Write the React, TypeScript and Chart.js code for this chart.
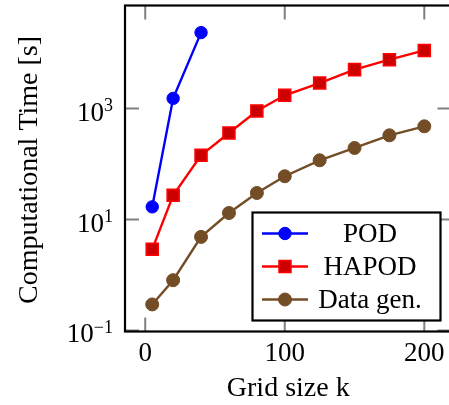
import { useEffect, useRef } from "react";
import { Chart, registerables } from "chart.js";

Chart.register(...registerables);

// ---- data ----
const gridSizes = [5, 20, 40, 60, 80, 100, 125, 150, 175, 200];
const podGridSizes = [5, 20, 40];
const podTime = [16.9, 1530, 23500];
const hapodTime = [2.9, 27.4, 144, 363, 905, 1740, 2890, 5050, 7640, 11200];
const dataGenTime = [0.294, 0.805, 4.86, 13.1, 30.1, 60.3, 117, 195, 330, 480];
const seriesLabels = ["POD", "HAPOD", "Data gen."];
const xTickValues = [0, 100, 200];
const yTickExponents = [-1, 1, 3];
const xAxisLabel = "Grid size k";
const yAxisLabel = "Computational Time [s]";
// axis limits (the right frame edge lies just outside the picture)
const xMin = -14.5;
const xFrameMax = 219.5;
const xVisibleMax = 217.7;

const FONT = '"Liberation Serif", "DejaVu Serif", serif';
const TICK_LEN = 14;

const toPoints = (xs: number[], ys: number[]) => xs.map((x, i) => ({ x, y: ys[i] }));

const supText = (e: number) => (e < 0 ? "\u2212" + Math.abs(e) : String(e));

const frameRight = (chart: any) => chart.scales.x.getPixelForValue(xFrameMax);

const framePlugin = {
  id: "frame",
  beforeDatasetsDraw(chart: any) {
    const { ctx, chartArea: a, scales } = chart;
    const xs = scales.x;
    const ys = scales.y;
    const right = frameRight(chart);
    ctx.save();
    ctx.strokeStyle = "#808080";
    ctx.lineWidth = 2;
    ctx.beginPath();
    for (const v of xTickValues) {
      const px = xs.getPixelForValue(v);
      ctx.moveTo(px, a.bottom);
      ctx.lineTo(px, a.bottom - TICK_LEN);
      ctx.moveTo(px, a.top);
      ctx.lineTo(px, a.top + TICK_LEN);
    }
    for (const e of yTickExponents) {
      const py = ys.getPixelForValue(Math.pow(10, e));
      ctx.moveTo(a.left, py);
      ctx.lineTo(a.left + TICK_LEN, py);
      ctx.moveTo(right, py);
      ctx.lineTo(right - TICK_LEN, py);
    }
    ctx.stroke();
    ctx.restore();
  },
  afterDatasetsDraw(chart: any) {
    const { ctx, chartArea: a } = chart;
    const right = frameRight(chart);
    ctx.save();
    ctx.strokeStyle = "#000";
    ctx.lineWidth = 2.2;
    ctx.strokeRect(a.left, a.top, right - a.left, a.bottom - a.top);
    ctx.restore();
  },
  afterDraw(chart: any) {
    const { ctx, chartArea: a, scales } = chart;
    const xs = scales.x;
    const ys = scales.y;
    const right = frameRight(chart);
    ctx.save();
    ctx.fillStyle = "#000";

    // x tick labels
    ctx.font = `27px ${FONT}`;
    ctx.textAlign = "center";
    ctx.textBaseline = "alphabetic";
    for (const v of xTickValues) {
      ctx.fillText(String(v), xs.getPixelForValue(v), a.bottom + 29.5);
    }

    // y tick labels with superscript exponents
    const rightEdge = a.left - 12;
    for (const e of yTickExponents) {
      const py = ys.getPixelForValue(Math.pow(10, e));
      const s = supText(e);
      ctx.font = `18px ${FONT}`;
      const ws = ctx.measureText(s).width;
      ctx.font = `27px ${FONT}`;
      const wb = ctx.measureText("10").width;
      ctx.textAlign = "left";
      ctx.fillText("10", rightEdge - ws - wb, py + 12);
      ctx.font = `18px ${FONT}`;
      ctx.fillText(s, rightEdge - ws, py + 2.5);
    }

    // axis titles
    ctx.font = `28px ${FONT}`;
    ctx.textAlign = "center";
    ctx.fillText(xAxisLabel, (a.left + right) / 2, a.bottom + 64);
    ctx.save();
    ctx.translate(36.5, (a.top + a.bottom) / 2 + 1.5);
    ctx.rotate(-Math.PI / 2);
    ctx.fillText(yAxisLabel, 0, 0);
    ctx.restore();

    // legend
    const box = { left: 252.5, top: 212.5, right: 440.5, bottom: 320.5 };
    ctx.fillStyle = "#fff";
    ctx.fillRect(box.left, box.top, box.right - box.left, box.bottom - box.top);
    ctx.strokeStyle = "#000";
    ctx.lineWidth = 2.2;
    ctx.strokeRect(box.left, box.top, box.right - box.left, box.bottom - box.top);
    chart.data.datasets.forEach((ds: any, i: number) => {
      const ry = 233.5 + i * 33;
      ctx.strokeStyle = ds.borderColor;
      ctx.lineWidth = ds.borderWidth;
      ctx.beginPath();
      ctx.moveTo(262, ry);
      ctx.lineTo(308, ry);
      ctx.stroke();
      const cx = 285;
      const r = ds.pointRadius;
      ctx.fillStyle = ds.pointBackgroundColor;
      ctx.strokeStyle = ds.pointBorderColor;
      ctx.lineWidth = ds.pointBorderWidth;
      ctx.beginPath();
      if (ds.pointStyle === "rect") {
        const h = Math.SQRT1_2 * r;
        ctx.rect(cx - h, ry - h, 2 * h, 2 * h);
      } else {
        ctx.arc(cx, ry, r, 0, Math.PI * 2);
      }
      ctx.fill();
      ctx.stroke();
      ctx.fillStyle = "#000";
      ctx.font = `27px ${FONT}`;
      ctx.textAlign = "center";
      ctx.textBaseline = "alphabetic";
      ctx.fillText(ds.label, 370, ry + 8.5);
    });
    ctx.restore();
  },
};

export default function App() {
  const ref = useRef<HTMLCanvasElement | null>(null);

  useEffect(() => {
    if (!ref.current) return;
    const blue = "#0000ff";
    const red = "#ff0000";
    const brown = "#734d26";
    const chart = new Chart(ref.current, {
      type: "line",
      data: {
        datasets: [
          {
            label: seriesLabels[0],
            data: toPoints(podGridSizes, podTime),
            borderColor: blue,
            backgroundColor: blue,
            borderWidth: 2.4,
            pointStyle: "circle",
            pointRadius: 6.2,
            pointBackgroundColor: blue,
            pointBorderColor: blue,
            pointBorderWidth: 1,
            tension: 0,
          },
          {
            label: seriesLabels[1],
            data: toPoints(gridSizes, hapodTime),
            borderColor: red,
            backgroundColor: red,
            borderWidth: 2.4,
            pointStyle: "rect",
            pointRadius: 8.5,
            pointBackgroundColor: "#cc0000",
            pointBorderColor: red,
            pointBorderWidth: 1.5,
            tension: 0,
          },
          {
            label: seriesLabels[2],
            data: toPoints(gridSizes, dataGenTime),
            borderColor: brown,
            backgroundColor: brown,
            borderWidth: 2.4,
            pointStyle: "circle",
            pointRadius: 6.5,
            pointBackgroundColor: brown,
            pointBorderColor: brown,
            pointBorderWidth: 1,
            tension: 0,
          },
        ],
      } as any,
      options: {
        responsive: false,
        animation: false,
        devicePixelRatio: 1,
        layout: { autoPadding: false, padding: { left: 125, right: 0, top: 5.5, bottom: 73.5 } },
        plugins: { legend: { display: false }, tooltip: { enabled: false } },
        scales: {
          x: { type: "linear", min: xMin, max: xVisibleMax, display: false },
          y: { type: "logarithmic", min: Math.pow(10, -1.02), max: Math.pow(10, 4.86), display: false },
        },
      } as any,
      plugins: [framePlugin as any],
    });
    return () => chart.destroy();
  }, []);

  return (
    <div style={{ position: "fixed", left: 0, top: 0, width: 449, height: 405, overflow: "hidden", background: "#fff" }}>
      <canvas ref={ref} width={449} height={405} style={{ display: "block", width: 449, height: 405 }} />
    </div>
  );
}
